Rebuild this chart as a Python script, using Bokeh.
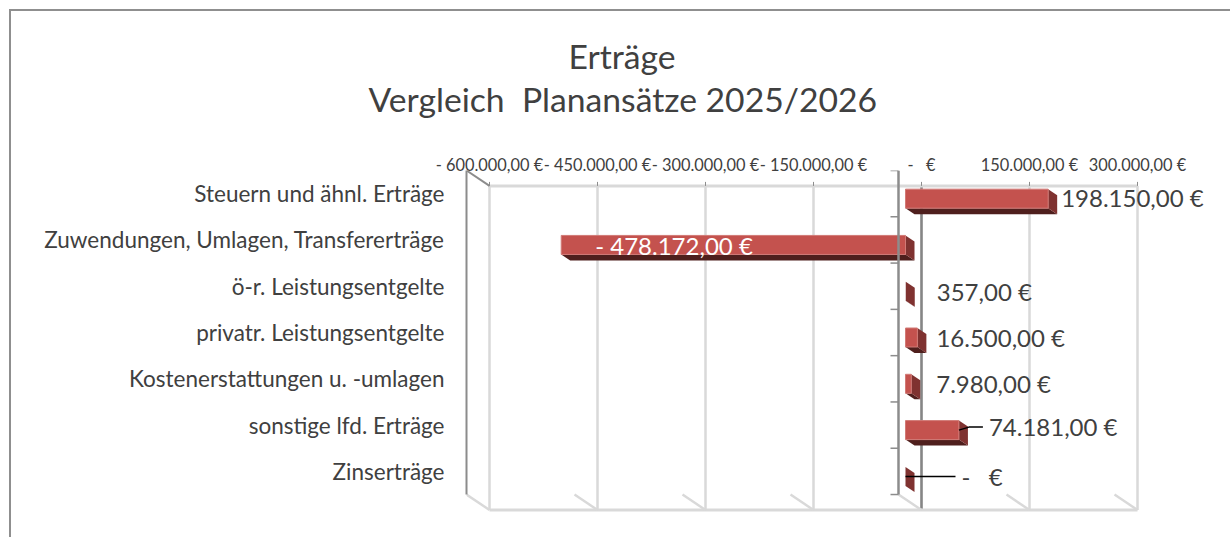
from bokeh.plotting import figure
from bokeh.embed import file_html
from bokeh.resources import INLINE
from bokeh.models import Range1d, FixedTicker, Title
from bokeh.core.properties import value

# ---- data ----
categories = ["Steuern und ähnl. Erträge", "Zuwendungen, Umlagen, Transfererträge",
              "ö-r. Leistungsentgelte", "privatr. Leistungsentgelte",
              "Kostenerstattungen u. -umlagen", "sonstige lfd. Erträge", "Zinserträge"]
values = [198150, -478172, 357, 16500, 7980, 74181, 0]
value_labels = ["198.150,00 €", "- 478.172,00 €", "357,00 €", "16.500,00 €",
                "7.980,00 €", "74.181,00 €", "-\u00a0\u00a0\u00a0€"]
x_ticks = [-600000, -450000, -300000, -150000, 0, 150000, 300000]
x_tick_labels = ["- 600.000,00 €", "- 450.000,00 €", "- 300.000,00 €", "- 150.000,00 €",
                 "-\u00a0\u00a0\u00a0€", "150.000,00 €", "300.000,00 €"]
title_lines = ["Erträge", "Vergleich\u00a0\u00a0Planansätze 2025/2026"]

# ---- layout (pixels) ----
M = 11                        # chart origin inside the page
W, H = 1232 - M, 539 - M
PX = 150000 / 108.0          # value units per pixel (x)
PY = 1 / 46.29               # category units per pixel (y)
FRAME_L, FRAME_T, FRAME_R, FRAME_B = 466 - M, 170 - M, 1228 - M, 532 - M
DX, DY = 23 * PX, 15.4 * PY  # depth of the plot box
BDX0, BDY0 = 16 * PX, 11 * PY  # bar back plane offset from the back wall
BDX, BDY = 9 * PX, 6 * PY    # bar depth
BAR_H = 19 * PY
GREY, LIGHT, DARKAX = "#8c8c8c", "#d9d9d9", "#868686"
FONT = "Lato"
TXT = "#404040"
# label left edge relative to bar end, and vertical shift, in pixels
label_dx = [4, -1, 22, 10, 16, 21, 47]
label_dy = [-1, 1, 0, 0, 0, -4, 0]

x0 = x_ticks[0] - 23 * PX
x1 = x0 + (FRAME_R - FRAME_L) * PX
y_top = len(categories) * 1.0
y_bot = y_top - (FRAME_B - FRAME_T) * PY

p = figure(width=W, height=H, output_backend="svg", toolbar_location=None,
           x_range=Range1d(x0, x1), y_range=Range1d(y_bot, y_top),
           x_axis_location="above", min_border_left=FRAME_L,
           min_border_top=FRAME_T, min_border_right=W - FRAME_R,
           min_border_bottom=H - FRAME_B, outline_line_color=None,
           background_fill_color="white", border_fill_color="white",
           margin=(M, 0, 0, M))
p.grid.visible = False
# chart-area border: top and left edges only
p.styles = {"box-shadow": "-2px -2px 0 0 #8f8f8f"}

# title lines (offsets from the frame's left edge)
p.title = Title(text=title_lines[0], align="left", offset=568 - FRAME_L - M, standoff=-63,
                text_font=FONT, text_font_size="33.7px", text_font_style="normal", text_color=TXT)
p.add_layout(Title(text=title_lines[1], align="left", offset=368 - FRAME_L - M, standoff=65,
                   text_font=FONT, text_font_size="33.7px", text_font_style="normal",
                   text_color=TXT), "above")

xa = p.xaxis[0]
xa.ticker = FixedTicker(ticks=x_ticks)
xa.major_label_overrides = dict(zip(x_ticks, x_tick_labels))
xa.axis_line_color = None
xa.major_tick_line_color = None
xa.minor_tick_line_color = None
xa.major_label_standoff = -9
xa.major_label_text_font = FONT
xa.major_label_text_font_size = "16.4px"
xa.major_label_text_color = TXT

ya = p.yaxis[0]
n = len(categories)
centers = [n - 0.5 - i for i in range(n)]
ya.ticker = FixedTicker(ticks=centers)
ya.major_label_overrides = dict(zip(centers, categories))
ya.bounds = (0, n)
ya.axis_line_color = GREY
ya.axis_line_width = 2
ya.major_tick_line_color = None
ya.minor_tick_line_color = None
ya.major_label_standoff = 16
ya.major_label_text_font = FONT
ya.major_label_text_font_size = "22.5px"
ya.major_label_text_color = TXT

# back wall
back_top, back_bot = n - DY, -DY
p.segment(x_ticks, [back_bot] * 7, x_ticks, [back_top] * 7, line_color=LIGHT, line_width=2.5)
p.segment([x_ticks[4]], [back_bot], [x_ticks[4]], [back_top], line_color=DARKAX, line_width=2.5)
p.segment([x_ticks[0]], [back_top], [x_ticks[-1]], [back_top], line_color=LIGHT, line_width=3)
p.segment([x_ticks[0]], [back_bot], [x_ticks[-1]], [back_bot], line_color=LIGHT, line_width=3)
# tiny ticks above the back wall
p.segment(x_ticks, [back_top] * 7, x_ticks, [back_top + 4 * PY] * 7, line_color=GREY, line_width=1)
# floor lines
p.segment(x_ticks, [back_bot] * 7, [t - DX for t in x_ticks], [0] * 7, line_color=LIGHT, line_width=2.5)
# side wall top edge
p.segment([x_ticks[0]], [back_top], [x_ticks[0] - DX], [n], line_color=GREY, line_width=2)

# bars
front_xs, front_ys, bot_xs, bot_ys, side_xs, side_ys = [], [], [], [], [], []
ends = []
for v, c in zip(values, centers):
    lo, hi = min(v, 0) - BDX0, max(v, 0) - BDX0
    t = c + BAR_H / 2 - 5 * PY
    b = c - BAR_H / 2 - 5 * PY
    if hi - lo > 1000:
        front_xs.append([lo, hi, hi, lo]); front_ys.append([b, b, t, t])
    bot_xs.append([lo, hi, hi + BDX, lo + BDX]); bot_ys.append([b, b, b - BDY, b - BDY])
    side_xs.append([hi, hi + BDX, hi + BDX, hi]); side_ys.append([t, t - BDY, b - BDY, b])
    ends.append((hi, c))
p.patches(bot_xs, bot_ys, fill_color="#4f1f1d", line_color=None)
p.patches(side_xs, side_ys, fill_color="#7f3230", line_color=None)
p.patches(front_xs, front_ys, fill_color="#c4524e", line_color="#d17a76", line_width=1)

# category axis line at zero with tick marks
zero_f = -DX
edges = list(range(n + 1))
p.segment([zero_f], [0], [zero_f], [n], line_color=GREY, line_width=2.5)
p.segment([zero_f - 8 * PX] * (n + 1), edges, [zero_f] * (n + 1), edges, line_color=GREY, line_width=1.5)

# leader lines
lx = [[ends[5][0], ends[5][0] + 10 * PX, ends[5][0] + 24 * PX], [ends[6][0], ends[6][0] + 50 * PX]]
ly = [[ends[5][1] - 5 * PY, ends[5][1] - 2 * PY, ends[5][1] - 2 * PY],
      [ends[6][1] - 5 * PY, ends[6][1] - 5 * PY]]
p.multi_line(lx, ly, line_color="black", line_width=1.5)

# value labels
tx = [(v if v >= 0 else v + 35 * PX) - BDX0 + dx * PX + (BDX if v >= 0 else 0)
      for v, dx in zip(values, label_dx)]
ty = [c - (5 + d) * PY for c, d in zip(centers, label_dy)]
colors = [TXT, "white", TXT, TXT, TXT, TXT, TXT]
p.text(tx, ty, text=value_labels, text_font=value(FONT), text_font_size="24px",
       text_baseline="middle", text_align="left", text_color=colors)

open("out.html", "w").write(file_html(p, INLINE))
